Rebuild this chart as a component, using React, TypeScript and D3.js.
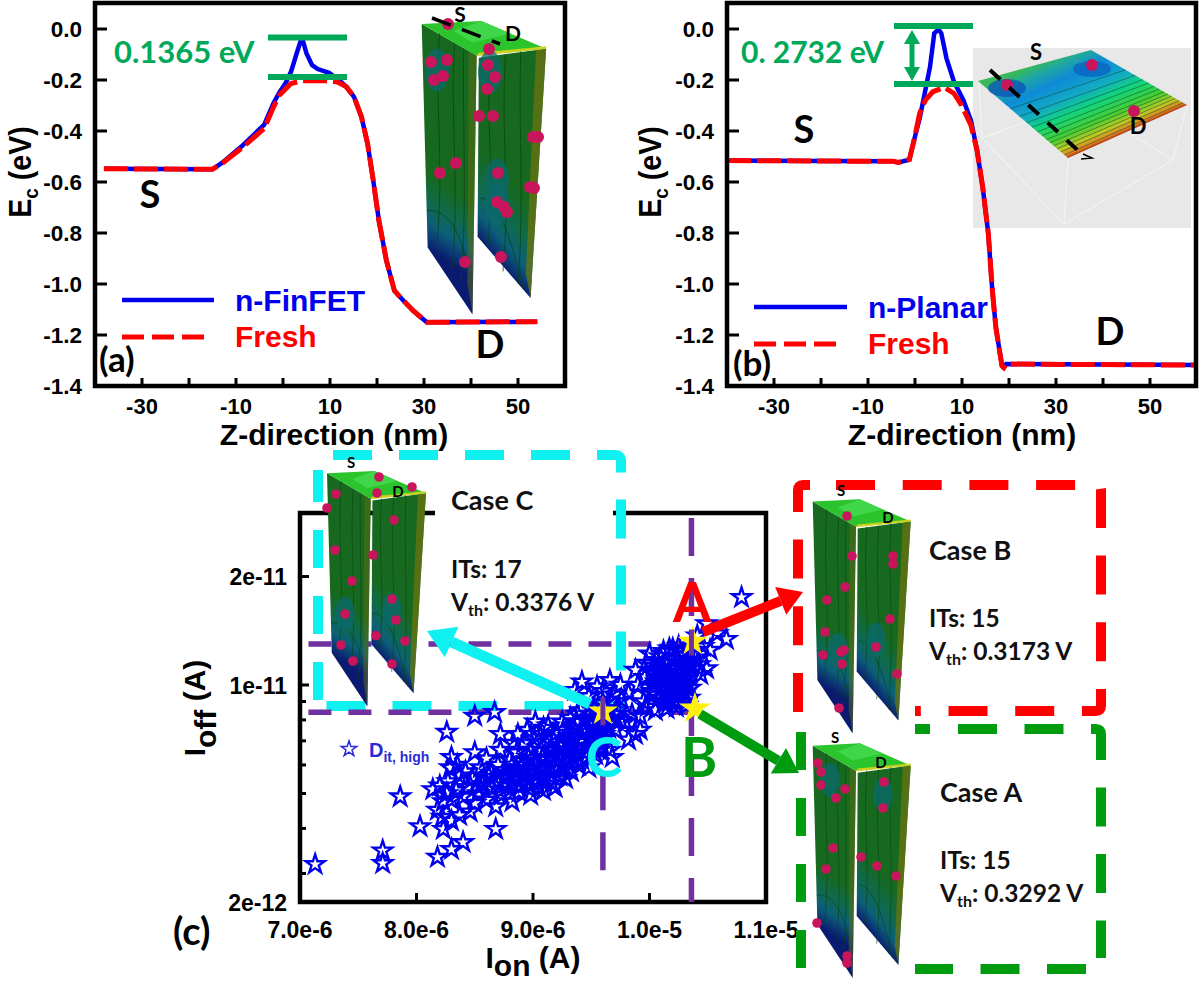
import React from "react";
import * as d3 from "d3";

const W = 1200;
const H = 981;

// Panel (a) -- conduction-band energy along the fin
const finFreshZ = [-38.1, -15, -13, -8.9, -4, -2, -0.8, 1.7, 4.1, 9, 11.5, 13.5, 15.1, 16.7, 18, 19.2, 20.4, 22, 23.7, 25.3, 27.7, 30.6, 54.1];
const finFreshE = [-0.548, -0.55, -0.528, -0.469, -0.39, -0.305, -0.26, -0.214, -0.203, -0.203, -0.207, -0.227, -0.266, -0.345, -0.45, -0.594, -0.751, -0.908, -1.026, -1.059, -1.105, -1.15, -1.148];
const finTrapZ = [-38.1, -15, -13, -8.9, -4, -2, -0.8, 0.5, 1.7, 2.9, 3.7, 4.3, 5, 6.2, 7.4, 9.8, 11.9, 13.5, 15.1, 16.7, 18, 19.2, 20.4, 22, 23.7, 25.3, 27.7, 30.6, 54.1];
const finTrapE = [-0.548, -0.55, -0.525, -0.462, -0.375, -0.29, -0.25, -0.214, -0.168, -0.096, -0.05, -0.05, -0.096, -0.142, -0.157, -0.172, -0.2, -0.227, -0.266, -0.345, -0.45, -0.594, -0.751, -0.908, -1.026, -1.059, -1.105, -1.15, -1.148];

// Panel (b) -- conduction-band energy along the planar channel
const planarFreshZ = [-40, -4.7, -3.5, -1.2, -0.2, 1, 2.2, 3.8, 6.3, 8.3, 9.9, 11.9, 13.2, 14.4, 15.6, 16.4, 17.2, 18.5, 18.9, 19.4, 60];
const planarFreshE = [-0.516, -0.519, -0.523, -0.512, -0.436, -0.33, -0.279, -0.246, -0.229, -0.253, -0.299, -0.377, -0.476, -0.62, -0.803, -1.013, -1.17, -1.321, -1.328, -1.314, -1.318];
const planarTrapZ = [-40, -4.7, -3.5, -1.2, -0.2, 1, 2.2, 3.2, 4.1, 5, 5.6, 6.7, 8.3, 10.3, 11.9, 13.2, 14.4, 15.6, 16.4, 17.2, 18.5, 18.9, 19.4, 60];
const planarTrapE = [-0.516, -0.519, -0.523, -0.512, -0.436, -0.35, -0.24, -0.148, -0.017, -0.001, -0.017, -0.115, -0.207, -0.279, -0.358, -0.476, -0.62, -0.803, -1.013, -1.17, -1.321, -1.328, -1.314, -1.318];

const zTicks = [-30, -20, -10, 0, 10, 20, 30, 40, 50];
const zTickLabels = [-30, -10, 10, 30, 50];
const ecTicks = [0, -0.2, -0.4, -0.6, -0.8, -1.0, -1.2, -1.4];

// Panel (c) -- Ion in units of 1e-6 A, Ioff in units of 1e-12 A
const ionUnit = 1e-6;
const ioffUnit = 1e-12;
const ionTicks = [7, 8, 9, 10, 11];
const ionLabels = ["7.0e-6", "8.0e-6", "9.0e-6", "1.0e-5", "1.1e-5"];
const ioffLabelled: [number, string][] = [[20, "2e-11"], [10, "1e-11"], [2.5, "2e-12"]];
const ioffMinor = [9, 8, 7, 6, 5, 4, 3];

const devicePoints: [number, number][] = [
  [7.13, 3.18], [7.71, 3.47], [7.71, 3.2], [7.86, 4.9], [8.03, 4.05], [8.18, 3.33], [8.3, 3.5], [8.4, 3.66], [8.23, 3.98], [8.68, 3.98],
  [8.26, 7.4], [8.3, 6.3], [8.5, 6.5], [8.5, 8.2], [8.67, 8.4], [8.72, 7.3], [8.14, 5.13], [8.2, 5.25], [8.27, 5.4], [8.37, 5.6],
  [8.48, 5.5], [8.29, 5.9], [8.18, 4.5], [8.22, 4.3], [8.3, 4.2], [8.37, 4.35], [8.46, 4.45], [8.23, 4.75], [8.3, 4.8], [8.26, 5.0],
  [8.34, 5.1], [8.4, 4.9], [8.44, 5.2], [8.5, 4.7], [8.53, 5.0], [8.57, 5.3], [8.6, 4.8], [8.62, 5.6], [8.65, 5.15], [8.68, 4.6],
  [8.7, 5.4], [8.73, 4.95], [8.75, 5.8], [8.78, 5.25], [8.8, 6.2], [8.82, 4.75], [8.84, 5.55], [8.86, 6.5], [8.88, 5.05], [8.9, 5.9],
  [8.92, 6.9], [8.94, 5.35], [8.96, 6.3], [8.98, 4.95], [9.0, 5.7], [9.01, 7.1], [9.03, 6.05], [9.05, 5.2], [9.07, 6.6], [9.09, 7.6],
  [9.1, 5.55], [9.12, 6.2], [9.14, 6.95], [9.16, 5.35], [9.18, 5.9], [9.2, 7.35], [9.21, 6.45], [9.23, 5.6], [9.25, 7.9], [9.27, 6.8],
  [9.29, 6.1], [9.31, 7.2], [9.33, 5.75], [9.35, 7.6], [9.36, 6.5], [9.38, 8.3], [9.4, 6.95], [9.42, 6.2], [9.43, 7.4], [9.45, 8.0],
  [9.47, 6.7], [9.48, 5.9], [9.5, 7.7], [9.51, 7.15], [9.53, 8.6], [9.54, 6.4], [9.56, 8.1], [9.57, 7.45], [9.59, 6.85], [9.6, 8.9],
  [8.35, 6.0], [8.42, 5.75], [8.55, 5.9], [8.6, 6.25], [8.64, 5.7], [8.7, 6.0], [8.72, 6.6], [8.76, 5.55], [8.8, 5.0], [8.83, 6.9],
  [8.87, 7.3], [8.9, 5.3], [8.93, 6.0], [8.95, 7.5], [8.98, 6.6], [9.0, 6.25], [9.02, 7.9], [9.04, 5.5], [9.06, 7.3], [9.08, 6.3],
  [9.11, 5.85], [9.13, 7.7], [9.15, 6.55], [9.17, 7.1], [9.19, 5.2], [9.22, 6.0], [9.24, 6.75], [9.26, 7.5], [9.28, 5.5], [9.3, 6.6],
  [9.32, 8.1], [9.34, 7.0], [9.37, 7.9], [9.39, 6.0], [9.41, 8.5], [9.44, 6.5], [9.46, 7.6], [9.49, 8.3], [9.52, 6.6], [9.55, 7.0],
  [9.58, 7.8], [9.61, 7.3], [9.63, 8.4], [9.65, 7.6], [9.67, 9.0], [9.69, 8.0], [9.71, 7.5], [9.66, 6.6], [9.68, 6.3], [9.73, 8.5],
  [9.76, 9.1], [9.79, 7.9], [9.82, 7.05], [9.88, 7.3], [9.92, 7.5], [9.85, 8.3], [9.92, 8.2], [9.36, 9.67], [9.42, 10.2], [9.55, 9.9],
  [9.66, 10.3], [9.75, 10.0], [9.48, 9.3], [9.6, 9.6], [9.7, 9.4], [9.82, 9.5], [9.88, 11.0], [9.9, 10.0], [9.95, 9.0], [9.98, 8.7],
  [9.96, 10.5], [10.0, 12.2], [10.02, 9.6], [10.03, 11.3], [10.05, 8.5], [10.06, 10.2], [10.07, 10.9], [10.08, 9.2], [10.09, 12.0], [10.1, 9.8],
  [10.11, 10.5], [10.12, 8.9], [10.13, 11.5], [10.14, 10.0], [10.15, 9.4], [10.16, 10.8], [10.17, 12.6], [10.18, 9.0], [10.19, 11.1], [10.2, 12.6],
  [10.2, 9.7], [10.21, 10.3], [10.22, 11.8], [10.23, 8.7], [10.24, 9.3], [10.25, 10.7], [10.26, 11.4], [10.27, 10.0], [10.28, 9.0], [10.29, 12.1],
  [10.3, 10.4], [10.3, 9.5], [10.31, 11.0], [10.32, 8.8], [10.33, 10.1], [10.33, 11.7], [10.34, 9.2], [10.35, 10.6], [10.35, 9.8], [10.36, 11.3],
  [10.04, 9.9], [10.06, 11.7], [10.1, 11.0], [10.12, 12.4], [10.15, 8.6], [10.18, 10.2], [10.22, 9.0], [10.25, 12.8], [10.28, 10.9], [10.31, 9.9],
  [10.08, 10.4], [10.13, 9.6], [10.17, 9.9], [10.21, 11.1], [10.26, 9.4], [10.3, 11.6], [10.34, 12.5], [10.02, 10.8], [10.0, 9.4], [9.97, 11.5],
  [10.38, 12.3], [10.4, 11.9], [10.43, 11.4], [10.49, 11.1], [10.46, 12.8], [10.52, 12.5], [10.41, 13.7], [10.49, 14.8], [10.66, 13.4], [10.79, 17.5],
  [10.58, 13.9], [10.44, 10.7],
  [8.72, 5.1], [8.78, 5.6], [8.81, 5.35], [8.85, 5.85], [8.89, 5.45], [8.91, 6.15], [8.95, 5.65], [8.97, 5.15], [9.02, 5.4], [9.06, 5.85],
  [9.09, 5.1], [9.14, 5.6], [9.18, 6.4], [9.23, 6.2], [9.27, 5.9], [9.3, 6.9], [9.34, 6.3], [9.38, 6.7], [9.42, 7.1], [9.46, 6.3],
  [9.5, 7.0], [9.53, 7.5], [9.57, 6.6], [9.6, 7.1], [9.62, 7.9], [9.7, 8.3], [9.75, 8.0], [9.64, 8.6], [8.58, 5.55], [8.52, 5.25],
];

const caseA: [number, number] = [10.37, 13.2];
const caseB: [number, number] = [10.39, 8.6];
const caseC: [number, number] = [9.6, 8.45];
const guideHighIoff = 13.0;
const guideLowIoff = 8.4;
const guideIon = [10.36, 9.6];

// Panel geometry
const plotTop = 3;
const plotBottom = 386;
const xA = d3.scaleLinear().domain([-40, 60]).range([95, 565]);
const xB = d3.scaleLinear().domain([-40, 60]).range([727, 1197]);
const yE = d3.scaleLinear().domain([0, -1.4]).range([29, 386]);
const xIon = d3.scaleLinear().domain([7 * ionUnit, 11 * ionUnit]).range([300, 766]);
const yOff = d3.scaleLog().domain([2.5 * ioffUnit, 30 * ioffUnit]).range([902, 513]);
const lineFn = d3.line<[number, number]>().x((d) => d[0]).y((d) => d[1]);
const symStar = d3.symbol().type(d3.symbolStar);

const ARIAL = '"Liberation Sans", Arial, sans-serif';
const CAL = 'Lato, "Open Sans", sans-serif';
const BLUE = "#0000ee";
const RED = "#ff0000";
const CYAN = "#0ff0f0";
const DGREEN = "#009c10";
const TGREEN = "#00a859";
const PURPLE = "#7030a0";

const zip = (a: number[], b: number[]) => a.map((v, i) => [v, b[i]] as [number, number]);

function EnergyPanel({ x, left, right, fresh, trap, yTitleX, labelX }: any) {
  const freshPts = fresh.map((d: [number, number]) => [x(d[0]), yE(d[1])]);
  const trapPts = trap.map((d: [number, number]) => [x(d[0]), yE(d[1])]);
  return (
    <g>
      <path d={lineFn(trapPts) as string} fill="none" stroke={BLUE} strokeWidth={4.5} />
      <path d={lineFn(freshPts) as string} fill="none" stroke={RED} strokeWidth={5} strokeDasharray="24 6" />
      <rect x={left} y={plotTop} width={right - left} height={plotBottom - plotTop} fill="none" stroke="#000" strokeWidth={4.5} />
      {zTicks.map((t) => (
        <line key={t} x1={x(t)} x2={x(t)} y1={plotBottom} y2={plotBottom - 8} stroke="#000" strokeWidth={3} />
      ))}
      {zTickLabels.map((t) => (
        <text key={t} x={x(t)} y={414} textAnchor="middle" fontFamily={ARIAL} fontWeight="bold" fontSize={22}>
          {t}
        </text>
      ))}
      {ecTicks.map((t) => (
        <g key={t}>
          <line x1={left} x2={left + 12} y1={yE(t)} y2={yE(t)} stroke="#000" strokeWidth={3} />
          <text x={left - 13} y={yE(t) + 8} textAnchor="end" fontFamily={ARIAL} fontWeight="bold" fontSize={22.5}>
            {t.toFixed(1)}
          </text>
        </g>
      ))}
      <text x={labelX} y={445} textAnchor="middle" fontFamily={ARIAL} fontWeight="bold" fontSize={30}>
        Z-direction (nm)
      </text>
      <text transform={`translate(${yTitleX},172) rotate(-90) scale(0.95,1.05)`} textAnchor="middle" fontFamily={ARIAL} fontWeight="bold" fontSize={30}>
        E<tspan dy={7} fontSize={20}>c</tspan>
        <tspan dy={-7}> (eV)</tspan>
      </text>
    </g>
  );
}

// One 3-D fin picture, drawn in local units and placed by transform
const FIN_LEFT = "0,2.3 43.3,27.3 40,232 4.7,179";
const FIN_RIGHT = "45,29 98,22 85.7,219 44,170.6";
const FIN_TOP = "0,2.3 47,0 98,22 45,27 43.3,27.3";

function Fin({ tx, ty, sx, sy, dots, r, halos }: any) {
  return (
    <g>
      <g transform={`translate(${tx},${ty}) scale(${sx},${sy})`}>
        <polygon points={FIN_LEFT} fill="url(#finFaceL)" />
        <polygon points={FIN_RIGHT} fill="url(#finFaceR)" />
        <polygon points="37,24 43.3,27.3 40,232 36,208" fill="#5f6d12" opacity={0.5} />
        <polygon points="90,23 98,22 85.7,219 82,200" fill="#6b7410" opacity={0.75} />
        <polygon points={FIN_TOP} fill="#2cc42c" />
        <polygon points="25,8 47,0 70,10 40,17" fill="#3fd64a" />
        <polygon points="43.3,27.3 45,25 98,20 98,22 45,27.5" fill="#cdd21e" />
        <path d="M14,10 C10,70 18,110 12,176 M26,18 C22,70 30,130 24,196 M33,22 C32,80 36,150 31,205 M54,27 C50,80 58,120 52,178 M66,26 C62,90 70,130 64,198 M78,24 C76,90 81,130 76,208 M4,150 C16,148 30,160 36,195 M46,140 C60,140 70,170 80,212" fill="none" stroke="#0a4410" strokeWidth={0.7} opacity={0.85} />
      </g>
      {halos.map((d: [number, number], i: number) => (
        <ellipse key={i} cx={d[0]} cy={d[1]} rx={r * 2} ry={r * 3.6} fill="#0b6a6e" opacity={0.75} />
      ))}
      {dots.map((d: [number, number], i: number) => (
        <circle key={i} cx={d[0]} cy={d[1]} r={r} fill="#c9155c" />
      ))}
    </g>
  );
}

const dotsPanelA: [number, number][] = [[431, 62], [447, 60], [434, 80], [443, 76], [489, 49], [488, 65], [495, 77], [487, 89], [479, 116], [493, 116], [533, 137], [538, 137], [456, 163], [440, 173], [498, 173], [530, 187], [534, 188], [497, 202], [504, 207], [507, 212], [465, 262], [501, 257], [448, 24]];
const dotsCaseB: [number, number][] = [[847, 516], [852, 556], [893, 556], [893, 564], [845, 587], [827, 600], [890, 619], [825, 632], [844, 650], [841, 652], [823, 655], [842, 664], [876, 647], [897, 674], [839, 708]];
const dotsCaseA: [number, number][] = [[818, 763], [821, 772], [821, 785], [845, 789], [836, 798], [884, 782], [883, 808], [833, 848], [826, 869], [861, 857], [877, 866], [896, 876], [817, 923], [847, 956], [847, 963]];
const dotsCaseC: [number, number][] = [[379, 477], [412, 487], [377, 493], [336, 494], [327, 508], [394, 520], [335, 550], [373, 555], [352, 581], [392, 599], [345, 614], [396, 620], [376, 635.5], [405, 641], [341, 645], [353, 661], [392, 664]];
const planarDots: [number, number][] = [[1007, 85], [1092, 65], [1134, 111]];
const planarCorners = { left: [978, 81], back: [1091, 50], right: [1187, 105], front: [1068, 158] };
const planarContours = [0.36, 0.46, 0.54, 0.6, 0.66, 0.71, 0.76, 0.8, 0.84, 0.88, 0.92, 0.96];

function PlanarInset() {
  const { left, back, right, front } = planarCorners;
  const lerp = (a: number[], b: number[], t: number) => [a[0] + (b[0] - a[0]) * t, a[1] + (b[1] - a[1]) * t];
  return (
    <g>
      <rect x={973} y={48} width={218} height={180} fill="#e8e8e8" />
      <path d="M979,82 L982,138 L1064,224 L1173,160 L1187,106 M982,138 L1080,102 L1173,160 M1064,224 L1068,160" fill="none" stroke="#f6f6f6" strokeWidth={1} />
      <polygon points={[left, back, right, front].map((p) => p.join(",")).join(" ")} fill="url(#planarFill)" />
      {planarContours.map((t, i) => {
        const a = lerp(left, front, t);
        const b = lerp(back, right, t);
        return <line key={i} x1={a[0]} y1={a[1]} x2={b[0]} y2={b[1]} stroke="#0b4a3a" strokeWidth={0.7} opacity={0.75} />;
      })}
      <ellipse cx={1007} cy={88} rx={19} ry={9} fill="#0a52b8" opacity={0.75} />
      <ellipse cx={1092} cy={69} rx={19} ry={8} fill="#0a62c0" opacity={0.75} />
      {planarDots.map((d, i) => (
        <circle key={i} cx={d[0]} cy={d[1]} r={6} fill="#c9155c" />
      ))}
      <line x1={990} y1={70} x2={1083} y2={155} stroke="#000" strokeWidth={4} strokeDasharray="14 12" />
      <path d="M1083,154 L1092,158 L1081,159" fill="none" stroke="#000" strokeWidth={1.5} />
      <text x={1036} y={60} textAnchor="middle" fontFamily={CAL} fontWeight="bold" fontSize={22}>S</text>
      <text x={1138} y={134} textAnchor="middle" fontFamily={CAL} fontWeight="bold" fontSize={22}>D</text>
    </g>
  );
}

function Arrow({ from, to, color, w, head }: any) {
  const a = Math.atan2(to[1] - from[1], to[0] - from[0]);
  const bx = to[0] - Math.cos(a) * head;
  const by = to[1] - Math.sin(a) * head;
  const nx = -Math.sin(a);
  const ny = Math.cos(a);
  const hw = head * 0.62;
  return (
    <g>
      <line x1={from[0]} y1={from[1]} x2={bx} y2={by} stroke={color} strokeWidth={w} />
      <polygon points={`${to[0]},${to[1]} ${bx + nx * hw},${by + ny * hw} ${bx - nx * hw},${by - ny * hw}`} fill={color} />
    </g>
  );
}

function CaseText({ x, title, titleY, its, itsY, vth, vthY }: any) {
  return (
    <g fontFamily={CAL} fontSize={24.5} fill="#111" fontWeight="bold">
      <text x={x} y={titleY} fontSize={27}>{title}</text>
      <text x={x} y={itsY}>ITs: {its}</text>
      <text x={x} y={vthY}>V<tspan dy={5} fontSize={16}>th</tspan><tspan dy={-5}>: </tspan>{vth}</text>
    </g>
  );
}

export default function App() {
  const pos = (d: [number, number]) => [xIon(d[0] * ionUnit), yOff(d[1] * ioffUnit)];
  const pA = pos(caseA);
  const pB = pos(caseB);
  const pC = pos(caseC);
  const cLeft = xIon(7 * ionUnit);
  const cRight = xIon(11 * ionUnit);
  const cTop = yOff(30 * ioffUnit);
  const cBottom = yOff(2.5 * ioffUnit);
  const gHigh = yOff(guideHighIoff * ioffUnit);
  const gLow = yOff(guideLowIoff * ioffUnit);
  const gxA = xIon(guideIon[0] * ionUnit);
  const gxC = xIon(guideIon[1] * ionUnit);
  const star = (size: number) => symStar.size(size)() as string;

  return (
    <svg width={W} height={H} viewBox={`0 0 ${W} ${H}`} style={{ position: "absolute", left: 0, top: 0, display: "block", background: "#fff" }}>
      <defs>
        <linearGradient id="finFaceL" gradientUnits="userSpaceOnUse" x1="0" y1="118" x2="-27" y2="160">
          <stop offset="0" stopColor="#17691f" />
          <stop offset="0.35" stopColor="#0f6a4c" />
          <stop offset="0.65" stopColor="#0b5f78" />
          <stop offset="1" stopColor="#0a1a70" />
        </linearGradient>
        <linearGradient id="finFaceR" gradientUnits="userSpaceOnUse" x1="44" y1="100" x2="8" y2="131">
          <stop offset="0" stopColor="#17691f" />
          <stop offset="0.4" stopColor="#0f6a4c" />
          <stop offset="0.7" stopColor="#0b5f78" />
          <stop offset="1" stopColor="#0a1a70" />
        </linearGradient>
        <linearGradient id="planarFill" gradientUnits="userSpaceOnUse" x1="1034" y1="65" x2="1074" y2="155">
          <stop offset="0" stopColor="#38b85a" />
          <stop offset="0.1" stopColor="#1ea8a0" />
          <stop offset="0.25" stopColor="#0e8ad6" />
          <stop offset="0.45" stopColor="#12aac4" />
          <stop offset="0.6" stopColor="#10d47e" />
          <stop offset="0.78" stopColor="#45cf30" />
          <stop offset="0.9" stopColor="#c0c820" />
          <stop offset="0.97" stopColor="#e08020" />
          <stop offset="1" stopColor="#b03c10" />
        </linearGradient>
      </defs>

      {/* Panel (a) */}
      <Fin tx={421.7} ty={21} sx={1.27} sy={1.265} dots={dotsPanelA} r={6} halos={[[437, 70], [490, 72], [497, 205], [497, 180]]} />
      <line x1={432} y1={18} x2={500} y2={44} stroke="#000" strokeWidth={3.5} strokeDasharray="20 12" />
      <text x={460} y={22} textAnchor="middle" fontFamily={CAL} fontWeight="bold" fontSize={21}>S</text>
      <text x={513} y={41} textAnchor="middle" fontFamily={CAL} fontWeight="bold" fontSize={21}>D</text>
      <EnergyPanel x={xA} left={95} right={565} fresh={zip(finFreshZ, finFreshE)} trap={zip(finTrapZ, finTrapE)} yTitleX={31} labelX={334} />
      <line x1={268} x2={347} y1={37.5} y2={37.5} stroke={TGREEN} strokeWidth={6} />
      <line x1={268} x2={347} y1={77} y2={77} stroke={TGREEN} strokeWidth={6} />
      <text x={114} y={63} fontFamily={CAL} fontWeight="bold" fontSize={31} fill={TGREEN}>0.1365 eV</text>
      <line x1={122} x2={214} y1={300} y2={300} stroke={BLUE} strokeWidth={4.5} />
      <line x1={122} x2={204} y1={337} y2={337} stroke={RED} strokeWidth={5} strokeDasharray="22 8" />
      <text x={235} y={311} fontFamily={ARIAL} fontWeight="bold" fontSize={30} fill={BLUE}>n-FinFET</text>
      <text x={235} y={347} fontFamily={ARIAL} fontWeight="bold" fontSize={30} fill={RED}>Fresh</text>
      <text x={150} y={208} textAnchor="middle" fontFamily={CAL} fontWeight="bold" fontSize={38}>S</text>
      <text x={490} y={358} textAnchor="middle" fontFamily={CAL} fontWeight="bold" fontSize={38}>D</text>
      <text x={99} y={372} fontFamily={CAL} fontWeight="bold" fontSize={35}>(a)</text>

      {/* Panel (b) */}
      <PlanarInset />
      <EnergyPanel x={xB} left={727} right={1196} fresh={zip(planarFreshZ, planarFreshE)} trap={zip(planarTrapZ, planarTrapE)} yTitleX={661} labelX={962} />
      <line x1={894} x2={973} y1={26} y2={26} stroke={TGREEN} strokeWidth={6} />
      <line x1={894} x2={973} y1={84} y2={84} stroke={TGREEN} strokeWidth={6} />
      <line x1={912} x2={912} y1={40} y2={70} stroke={TGREEN} strokeWidth={5} />
      <polygon points="912,30 904,44 920,44" fill={TGREEN} />
      <polygon points="912,81 904,67 920,67" fill={TGREEN} />
      <text x={741} y={63} fontFamily={CAL} fontWeight="bold" fontSize={30} fill={TGREEN}>0. 2732 eV</text>
      <line x1={754} x2={847} y1={307} y2={307} stroke={BLUE} strokeWidth={4.5} />
      <line x1={754} x2={836} y1={344} y2={344} stroke={RED} strokeWidth={5} strokeDasharray="22 8" />
      <text x={868} y={318} fontFamily={ARIAL} fontWeight="bold" fontSize={30} fill={BLUE}>n-Planar</text>
      <text x={868} y={354} fontFamily={ARIAL} fontWeight="bold" fontSize={30} fill={RED}>Fresh</text>
      <text x={804} y={143} textAnchor="middle" fontFamily={CAL} fontWeight="bold" fontSize={38}>S</text>
      <text x={1110} y={345} textAnchor="middle" fontFamily={CAL} fontWeight="bold" fontSize={38}>D</text>
      <text x={733} y={376} fontFamily={CAL} fontWeight="bold" fontSize={35}>(b)</text>

      {/* Panel (c) */}
      <rect x={cLeft} y={cTop} width={cRight - cLeft} height={cBottom - cTop} fill="none" stroke="#000" strokeWidth={4.5} />
      <rect x={435} y={505} width={178} height={15} fill="#fff" />
      {ionTicks.map((t, i) => (
        <g key={t}>
          <line x1={xIon(t * ionUnit)} x2={xIon(t * ionUnit)} y1={cBottom} y2={cBottom - 9} stroke="#000" strokeWidth={3} />
          <text x={xIon(t * ionUnit)} y={938} textAnchor="middle" fontFamily={ARIAL} fontWeight="bold" fontSize={23}>
            {ionLabels[i]}
          </text>
        </g>
      ))}
      {ioffLabelled.map(([v, s]) => (
        <g key={s}>
          <line x1={cLeft} x2={cLeft + 9} y1={yOff(v * ioffUnit)} y2={yOff(v * ioffUnit)} stroke="#000" strokeWidth={3} />
          <text x={287} y={yOff(v * ioffUnit) + 9} textAnchor="end" fontFamily={ARIAL} fontWeight="bold" fontSize={23}>
            {s}
          </text>
        </g>
      ))}
      {ioffMinor.map((v) => (
        <line key={v} x1={cLeft} x2={cLeft + 6} y1={yOff(v * ioffUnit)} y2={yOff(v * ioffUnit)} stroke="#000" strokeWidth={3} />
      ))}
      <text x={533} y={968} textAnchor="middle" fontFamily={ARIAL} fontWeight="bold" fontSize={30}>
        I<tspan dy={8}>on</tspan><tspan dy={-8}> (A)</tspan>
      </text>
      <text transform="translate(205,708) rotate(-90)" textAnchor="middle" fontFamily={ARIAL} fontWeight="bold" fontSize={30}>
        I<tspan dy={11}>off</tspan><tspan dy={-11}> (A)</tspan>
      </text>
      <text x={173} y={945} fontFamily={CAL} fontWeight="bold" fontSize={38}>(c)</text>

      {/* dashed case boxes */}
      <path d={`M333,455 H615 Q621,455 621,461 V706 H313`} fill="none" stroke={CYAN} strokeWidth={10} strokeDasharray="39 27" />
      <path d={`M318,700 V470`} fill="none" stroke={CYAN} strokeWidth={10} strokeDasharray="38 28" />
      <path d={`M836,485 H1096 Q1101,485 1101,490 V706 Q1101,711 1096,711 H915`} fill="none" stroke={RED} strokeWidth={10} strokeDasharray="39 27.7" />
      <path d={`M798,712 V490 Q798,485 803,485 H810`} fill="none" stroke={RED} strokeWidth={10} strokeDasharray="39 27.7" />
      <path d={`M915,729 H930`} fill="none" stroke={DGREEN} strokeWidth={10} />
      <path d={`M958,729 H1096 Q1101,729 1101,734 V958`} fill="none" stroke={DGREEN} strokeWidth={10} strokeDasharray="39 27.5" />
      <path d={`M1086,969 H915`} fill="none" stroke={DGREEN} strokeWidth={10} strokeDasharray="39 27.5" />
      <path d={`M801,732 V968 H810`} fill="none" stroke={DGREEN} strokeWidth={10} strokeDasharray="38 28" />

      {/* purple guide lines */}
      <g stroke={PURPLE} strokeWidth={5.5} fill="none" strokeDasharray="23 17">
        <line x1={gxA} x2={296} y1={gHigh} y2={gHigh} />
        <line x1={gxA} x2={296} y1={gLow} y2={gLow} />
        <line x1={gxA} x2={gxA} y1={518} y2={cBottom} strokeDasharray="38 22" />
        <line x1={gxC} x2={gxC} y1={gLow} y2={886} strokeDasharray="38 22" />
      </g>

      {/* devices */}
      {devicePoints.map((d, i) => {
        const p = pos(d);
        return <path key={i} d={star(112) as string} transform={`translate(${p[0]},${p[1]})`} fill="none" stroke={BLUE} strokeWidth={2.4} />;
      })}
      <path d={star(75) as string} transform="translate(349,749)" fill="none" stroke="#2a2ad8" strokeWidth={1.5} />
      <text x={369} y={757} fontFamily={ARIAL} fontWeight="bold" fontSize={20} fill="#2a2ad8">
        D<tspan dy={5} fontSize={14}>it, high</tspan>
      </text>

      {[pA, pB, pC].map((p, i) => (
        <g key={i}>
          <path d={star(i === 1 ? 320 : 280) as string} transform={`translate(${p[0]},${p[1]})`} fill="#ffee10" />
        </g>
      ))}
      <line x1={gxA} x2={gxA} y1={pA[1] - 12} y2={pA[1] + 14} stroke={PURPLE} strokeWidth={5} />
      <line x1={gxC} x2={gxC} y1={pC[1] - 14} y2={pC[1] + 14} stroke={PURPLE} strokeWidth={5} />

      <Arrow from={[703, 632]} to={[803, 592]} color={RED} w={10} head={24} />
      <Arrow from={[590, 704]} to={[427, 631]} color={CYAN} w={11} head={27} />
      <Arrow from={[700, 714]} to={[799, 773]} color={DGREEN} w={10} head={24} />

      <text x={692} y={622} textAnchor="middle" fontFamily={CAL} fontWeight="bold" fontSize={55} fill={RED}>A</text>
      <text x={699} y={777} textAnchor="middle" fontFamily={CAL} fontWeight="bold" fontSize={55} fill={DGREEN}>B</text>
      <text x={604} y={777} textAnchor="middle" fontFamily={CAL} fontWeight="bold" fontSize={55} fill={CYAN}>C</text>

      {/* Case insets */}
      <Fin tx={327} ty={471} sx={1.01} sy={1.015} dots={dotsCaseC} r={4.8} halos={[[345, 614], [392, 610]]} />
      <text x={351} y={468} textAnchor="middle" fontFamily={CAL} fontWeight="bold" fontSize={15}>S</text>
      <text x={398} y={497} textAnchor="middle" fontFamily={CAL} fontWeight="bold" fontSize={15}>D</text>
      <CaseText x={451} title="Case C" titleY={510} its="17" itsY={578} vth="0.3376 V" vthY={611} />

      <Fin tx={812.7} ty={499.3} sx={1} sy={1.01} dots={dotsCaseB} r={4.8} halos={[[838, 650], [876, 640]]} />
      <text x={841} y={496} textAnchor="middle" fontFamily={CAL} fontWeight="bold" fontSize={15}>S</text>
      <text x={888} y={523} textAnchor="middle" fontFamily={CAL} fontWeight="bold" fontSize={15}>D</text>
      <CaseText x={929} title="Case  B" titleY={560} its="15" itsY={627} vth="0.3173 V" vthY={660} />

      <Fin tx={812.7} ty={743.3} sx={1} sy={1.012} dots={dotsCaseA} r={4.8} halos={[[830, 780], [883, 795]]} />
      <text x={835} y={743} textAnchor="middle" fontFamily={CAL} fontWeight="bold" fontSize={15}>S</text>
      <text x={881} y={768} textAnchor="middle" fontFamily={CAL} fontWeight="bold" fontSize={15}>D</text>
      <CaseText x={940} title="Case  A" titleY={802} its="15" itsY={869} vth="0.3292 V" vthY={902} />
    </svg>
  );
}
